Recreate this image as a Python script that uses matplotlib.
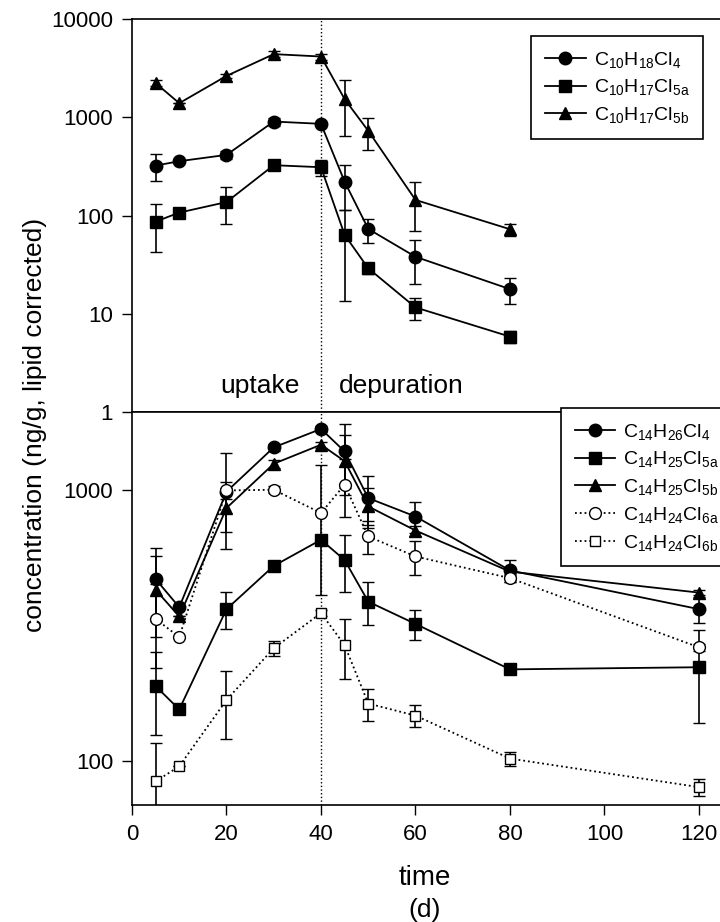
import numpy as np
import matplotlib
matplotlib.use("Agg")
import matplotlib.pyplot as plt
from matplotlib.lines import Line2D
from matplotlib.ticker import FixedLocator, FixedFormatter, NullLocator

plt.rcParams["font.family"] = ["Liberation Sans", "DejaVu Sans"]
plt.rcParams["mathtext.fontset"] = "custom"
plt.rcParams["mathtext.rm"] = "Liberation Sans"
plt.rcParams["mathtext.it"] = "Liberation Sans"
plt.rcParams["mathtext.bf"] = "Liberation Sans:bold"

# sampling days
t_top = [5, 10, 20, 30, 40, 45, 50, 60, 80]
t_bot = [5, 10, 20, 30, 40, 45, 50, 60, 80, 120]

# upper panel: C10 congeners (mean, sd)
c10_cl4 = [322, 357, 414, 904, 857, 221, 73, 38, 17.8]
c10_cl4_sd = [100, 0, 40, 85, 40, 106, 20, 18, 5.3]
c10_cl5a = [86.7, 107, 137, 325, 310, 63.5, 29, 11.6, 5.85]
c10_cl5a_sd = [44, 0, 56, 20, 57, 50, 3.5, 3, 0.8]
c10_cl5b = [2225, 1391, 2634, 4390, 4150, 1529, 727, 144, 72.5]
c10_cl5b_sd = [150, 0, 150, 300, 300, 890, 260, 75, 10]

# lower panel: C14 congeners (mean, sd)
c14_cl4 = [470, 370, 990, 1443, 1688, 1394, 937, 801, 506, 364]
c14_cl4_sd = [142, 0, 385, 40, 40, 372, 190, 102, 47, 40]
c14_cl5a = [189, 155, 364, 526, 657, 553, 388, 321, 218, 222]
c14_cl5a_sd = [64.5, 0, 57, 20, 30, 130, 70, 40, 8, 84]
c14_cl5b = [429, 342, 861, 1255, 1476, 1283, 873, 711, 501, 419]
c14_cl5b_sd = [141, 0, 161, 40, 40, 323, 148, 30, 15, 10]
c14_cl6a = [335, 287, 1000, 1006, 825, 1050, 676, 570, 474, 263]
c14_cl6a_sd = [115, 0, 71, 30, 415, 253, 93, 82, 15, 8]
c14_cl6b = [84, 95.5, 168, 261, 352, 268, 163, 147, 102, 80]
c14_cl6b_sd = [32, 0, 47, 16, 10, 68, 22, 14, 6, 6]

top_labels = [r"C$_{\mathrm{10}}$H$_{\mathrm{18}}$Cl$_{\mathrm{4}}$",
              r"C$_{\mathrm{10}}$H$_{\mathrm{17}}$Cl$_{\mathrm{5a}}$",
              r"C$_{\mathrm{10}}$H$_{\mathrm{17}}$Cl$_{\mathrm{5b}}$"]
bot_labels = [r"C$_{\mathrm{14}}$H$_{\mathrm{26}}$Cl$_{\mathrm{4}}$",
              r"C$_{\mathrm{14}}$H$_{\mathrm{25}}$Cl$_{\mathrm{5a}}$",
              r"C$_{\mathrm{14}}$H$_{\mathrm{25}}$Cl$_{\mathrm{5b}}$",
              r"C$_{\mathrm{14}}$H$_{\mathrm{24}}$Cl$_{\mathrm{6a}}$",
              r"C$_{\mathrm{14}}$H$_{\mathrm{24}}$Cl$_{\mathrm{6b}}$"]

W, H = 720, 922
fig = plt.figure(figsize=(W / 100, H / 100), dpi=100)

x0 = 132 / W
xw = 126 * 4.725 / W
ax1 = fig.add_axes([x0, 1 - 412 / H, xw, (412 - 19) / H])
ax2 = fig.add_axes([x0, 1 - 805 / H, xw, (805 - 412) / H])


def series(ax, x, y, sd, marker, ms, filled, ls, label):
    style = dict(color="black", lw=1.3, ls=ls, marker=marker, ms=ms,
                 mfc="black" if filled else "white", mec="black", mew=1.0)
    ax.errorbar(x, y, yerr=sd, elinewidth=1.2, capsize=4.5, capthick=1.2,
                **style)
    # legend entry without error bar caps
    return Line2D([], [], label=label, **style)


h_top = [
    series(ax1, t_top, c10_cl4, c10_cl4_sd, "o", 9, True, "-", top_labels[0]),
    series(ax1, t_top, c10_cl5a, c10_cl5a_sd, "s", 8, True, "-", top_labels[1]),
    series(ax1, t_top, c10_cl5b, c10_cl5b_sd, "^", 9, True, "-", top_labels[2]),
]
h_bot = [
    series(ax2, t_bot, c14_cl4, c14_cl4_sd, "o", 9, True, "-", bot_labels[0]),
    series(ax2, t_bot, c14_cl5a, c14_cl5a_sd, "s", 8, True, "-", bot_labels[1]),
    series(ax2, t_bot, c14_cl5b, c14_cl5b_sd, "^", 9, True, "-", bot_labels[2]),
    series(ax2, t_bot, c14_cl6a, c14_cl6a_sd, "o", 8.5, False, ":", bot_labels[3]),
    series(ax2, t_bot, c14_cl6b, c14_cl6b_sd, "s", 7.5, False, ":", bot_labels[4]),
]

for ax in (ax1, ax2):
    ax.set_yscale("log")
    ax.set_xlim(0, 126)
    ax.axvline(40, color="black", ls=":", lw=1.0, zorder=0)
    ax.yaxis.set_minor_locator(NullLocator())
    ax.tick_params(axis="both", direction="out", length=7.5, width=1.0,
                   labelsize=16, pad=6)
    for s in ax.spines.values():
        s.set_linewidth(1.2)

ax1.set_ylim(1, 10000)
ax1.yaxis.set_major_locator(FixedLocator([1, 10, 100, 1000, 10000]))
ax1.yaxis.set_major_formatter(FixedFormatter(["1", "10", "100", "1000", "10000"]))
ax1.set_xticks([])

ax2.set_ylim(68.7, 1950)
ax2.yaxis.set_major_locator(FixedLocator([100, 1000]))
ax2.yaxis.set_major_formatter(FixedFormatter(["100", "1000"]))
ax2.set_xticks([0, 20, 40, 60, 80, 100, 120])

ax1.text(27, 1.55, "uptake", ha="center", va="baseline", fontsize=19)
ax1.text(57, 1.55, "depuration", ha="center", va="baseline", fontsize=19)

leg_kw = dict(frameon=True, fancybox=False, shadow=False, framealpha=1,
              edgecolor="black", fontsize=14, borderaxespad=0,
              handlelength=2.1, labelspacing=0.4, borderpad=0.7,
              handletextpad=0.4, bbox_transform=fig.transFigure)
l1 = ax1.legend(handles=h_top, loc="upper right",
                bbox_to_anchor=(703 / W, 1 - 36 / H), **leg_kw)
l2 = ax2.legend(handles=h_bot, loc="upper left",
                bbox_to_anchor=(561 / W, 1 - 408 / H), **leg_kw)
for lg in (l1, l2):
    lg.get_frame().set_linewidth(1.2)

fig.text(35 / W, 1 - 425 / H, "concentration (ng/g, lipid corrected)",
         rotation=90, ha="center", va="center", fontsize=19)
fig.text(425 / W, 1 - 878 / H, "time", ha="center", va="center", fontsize=20)
fig.text(425 / W, 1 - 910 / H, "(d)", ha="center", va="center", fontsize=19)

fig.savefig("out.png", dpi=100)
